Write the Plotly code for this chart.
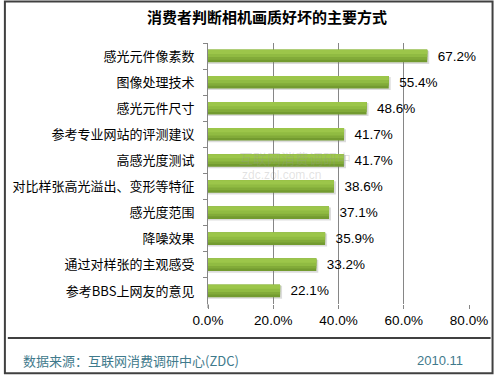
import plotly.graph_objects as go

categories = ["感光元件像素数", "图像处理技术", "感光元件尺寸", "参考专业网站的评测建议", "高感光度测试",
              "对比样张高光溢出、变形等特征", "感光度范围", "降噪效果", "通过对样张的主观感受", "参考BBS上网友的意见"]
values = [67.2, 55.4, 48.6, 41.7, 41.7, 38.6, 37.1, 35.9, 33.2, 22.1]
tick_vals = [0, 20, 40, 60, 80]
tick_text = ["0.0%", "20.0%", "40.0%", "60.0%", "80.0%"]
title_text = "消费者判断相机画质好坏的主要方式"
source_text = "数据来源：互联网消费调研中心(ZDC)"
date_text = "2010.11"

W, H = 500, 375
L, R, T, B = 208, 474, 42.5, 304
pw, ph = R - L, B - T

def px_x(x):
    return (x - L) / pw

def px_y(y):
    return (B - y) / ph

CJK = "Noto Sans CJK SC, Noto Sans, sans-serif"
LAT = "Liberation Sans, Arial, sans-serif"

fig = go.Figure()
# shadow
fig.add_trace(go.Bar(y=categories, x=[v + 0.6 for v in values], orientation="h", width=0.50, offset=-0.20,
                     marker=dict(color="rgba(130,130,130,0.28)", line=dict(width=0)),
                     hoverinfo="skip", showlegend=False))
# gradient layers (dark bottom -> light top)
layers = [(0.48, "#739b30"), (0.38, "#82ab39"), (0.28, "#90bb42"), (0.16, "#9cc64a")]
for i, (w, c) in enumerate(layers):
    kw = {}
    if i == 0:
        kw = dict(text=["  %.1f%%" % v for v in values], textposition="outside", constraintext="none",
                  textfont=dict(family=LAT, size=13.5, color="#000000"), cliponaxis=False)
    fig.add_trace(go.Bar(y=categories, x=values, orientation="h", width=w, offset=-0.24,
                         marker=dict(color=c, line=dict(width=0)), showlegend=False,
                         hoverinfo="skip" if i else None, **kw))

fig.update_layout(
    width=W, height=H, barmode="overlay",
    margin=dict(l=L, r=W - R, t=T, b=H - B, pad=0),
    paper_bgcolor="white", plot_bgcolor="white",
    title=dict(text="<b>" + title_text + "</b>", x=267 / W, xanchor="center", y=1 - 18 / H,
               yanchor="middle", yref="container", xref="container",
               font=dict(family=CJK, size=15, color="#000000")),
    xaxis=dict(range=[0, 80], tickvals=tick_vals, ticktext=tick_text, showgrid=True,
               gridcolor="#868686", gridwidth=1, zeroline=False, showline=False,
               ticks="outside", ticklen=4, tickcolor="#868686",
               tickfont=dict(family=LAT, size=13.5, color="#000000")),
    yaxis=dict(autorange="reversed", showline=True, linecolor="#868686", linewidth=1,
               ticks="outside", ticklen=4, tickcolor="#868686", tickson="boundaries",
               ticklabelstandoff=10, showgrid=False,
               tickfont=dict(family=CJK, size=13, color="#000000")),
    shapes=[
        dict(type="rect", xref="paper", yref="paper", x0=px_x(1), x1=px_x(498), y0=px_y(1), y1=px_y(373.5),
             line=dict(color="#404040", width=2), layer="above"),
        dict(type="line", xref="paper", yref="paper", x0=px_x(4), x1=px_x(496), y0=px_y(338), y1=px_y(338),
             line=dict(color="#000000", width=1.5)),
        dict(type="line", xref="paper", yref="paper", x0=0, x1=0, y0=0, y1=px_y(308),
             line=dict(color="#868686", width=1)),
    ],
    annotations=[
        dict(text=source_text, xref="paper", yref="paper", x=px_x(17), y=px_y(361), xanchor="left",
             yanchor="middle", showarrow=False, font=dict(family=CJK, size=13, color="#3f7a8c")),
        dict(text=date_text, xref="paper", yref="paper", x=px_x(444), y=px_y(361), xanchor="center",
             yanchor="middle", showarrow=False, font=dict(family=LAT, size=13, color="#3f7a8c")),
        dict(text="互联网消费调研中", xref="paper", yref="paper", x=px_x(297), y=px_y(158), xanchor="center",
             yanchor="middle", showarrow=False, font=dict(family=CJK, size=14, color="rgba(150,150,150,0.28)")),
        dict(text="zdc.zol.com.cn", xref="paper", yref="paper", x=px_x(283), y=px_y(175), xanchor="center",
             yanchor="middle", showarrow=False, font=dict(family=LAT, size=12, color="rgba(150,150,150,0.28)")),
    ],
)

fig.write_html("out.html", config={"displayModeBar": False},
               post_script="document.body.style.margin='0';document.body.style.overflow='hidden';")
